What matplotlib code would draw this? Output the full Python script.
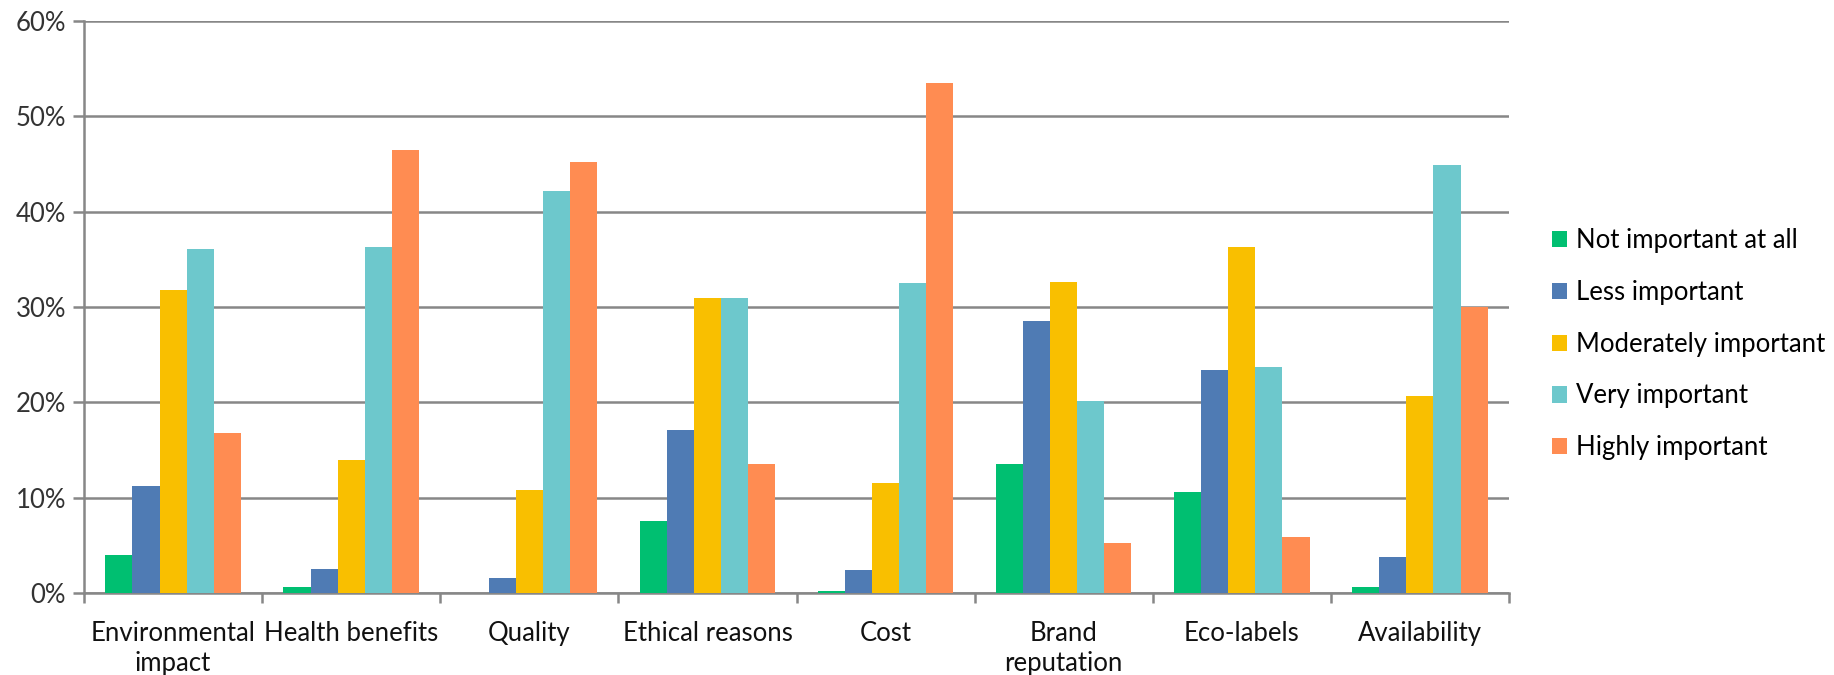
import numpy as np
import matplotlib
matplotlib.use('Agg')
import matplotlib.pyplot as plt
from matplotlib.patches import Patch

# data (percent)
categories = ["Environmental\nimpact", "Health benefits", "Quality", "Ethical reasons",
              "Cost", "Brand\nreputation", "Eco-labels", "Availability"]
series_names = ["Not important at all", "Less important", "Moderately important",
                "Very important", "Highly important"]
not_important = [4.0, 0.6, 0.0, 7.6, 0.2, 13.5, 10.6, 0.6]
less_important = [11.2, 2.5, 1.6, 17.1, 2.4, 28.5, 23.4, 3.8]
moderately_important = [31.8, 13.9, 10.8, 30.9, 11.5, 32.6, 36.3, 20.7]
very_important = [36.1, 36.3, 42.2, 30.9, 32.5, 20.1, 23.7, 44.9]
highly_important = [16.8, 46.5, 45.2, 13.5, 53.5, 5.2, 5.9, 30.0]

colors = ["#00BF71", "#4F7BB4", "#F9BF00", "#6DC8CC", "#FF8C52"]

plt.rcParams['font.family'] = ['Lato', 'DejaVu Sans']

fig = plt.figure(figsize=(18.34, 6.75), dpi=100)
ax = fig.add_axes([0.0458, 0.1215, 0.777, 0.8474])

all_series = [not_important, less_important, moderately_important,
              very_important, highly_important]
x = np.arange(len(categories))
bw = 0.152
for i, vals in enumerate(all_series):
    ax.bar(x + (i - 2) * bw, vals, width=bw, color=colors[i], zorder=3)

ax.set_xlim(-0.5, len(categories) - 0.5)
ax.set_ylim(0, 60)
ax.set_yticks(np.arange(0, 61, 10))
ax.set_yticklabels([f"{v}%" for v in range(0, 61, 10)], fontsize=18.5, color="#333333")
ax.yaxis.grid(True, color="#878787", linewidth=1.8, zorder=0)
ax.set_axisbelow(True)

ax.set_xticks(x)
ax.set_xticklabels(categories, fontsize=18.5, color="#111111", linespacing=1.27)
ax.set_xticks(np.arange(-0.5, len(categories)), minor=True)
ax.tick_params(axis='x', which='major', length=0, pad=20)
ax.tick_params(axis='x', which='minor', length=7, width=1.8, color="#878787", direction='out')
ax.tick_params(axis='y', length=8, width=1.8, color="#878787", pad=5)

for s in ['top', 'right']:
    ax.spines[s].set_visible(False)
for s in ['left', 'bottom']:
    ax.spines[s].set_color("#878787")
    ax.spines[s].set_linewidth(1.8)

handles = [Patch(facecolor=c) for c in colors]
fig.legend(handles, series_names, loc='center left', bbox_to_anchor=(0.846, 0.49),
           frameon=False, fontsize=18.5, handlelength=0.6, handleheight=0.6,
           handletextpad=0.35, labelspacing=1.04, borderpad=0, borderaxespad=0)

fig.savefig("out.png", dpi=100)
